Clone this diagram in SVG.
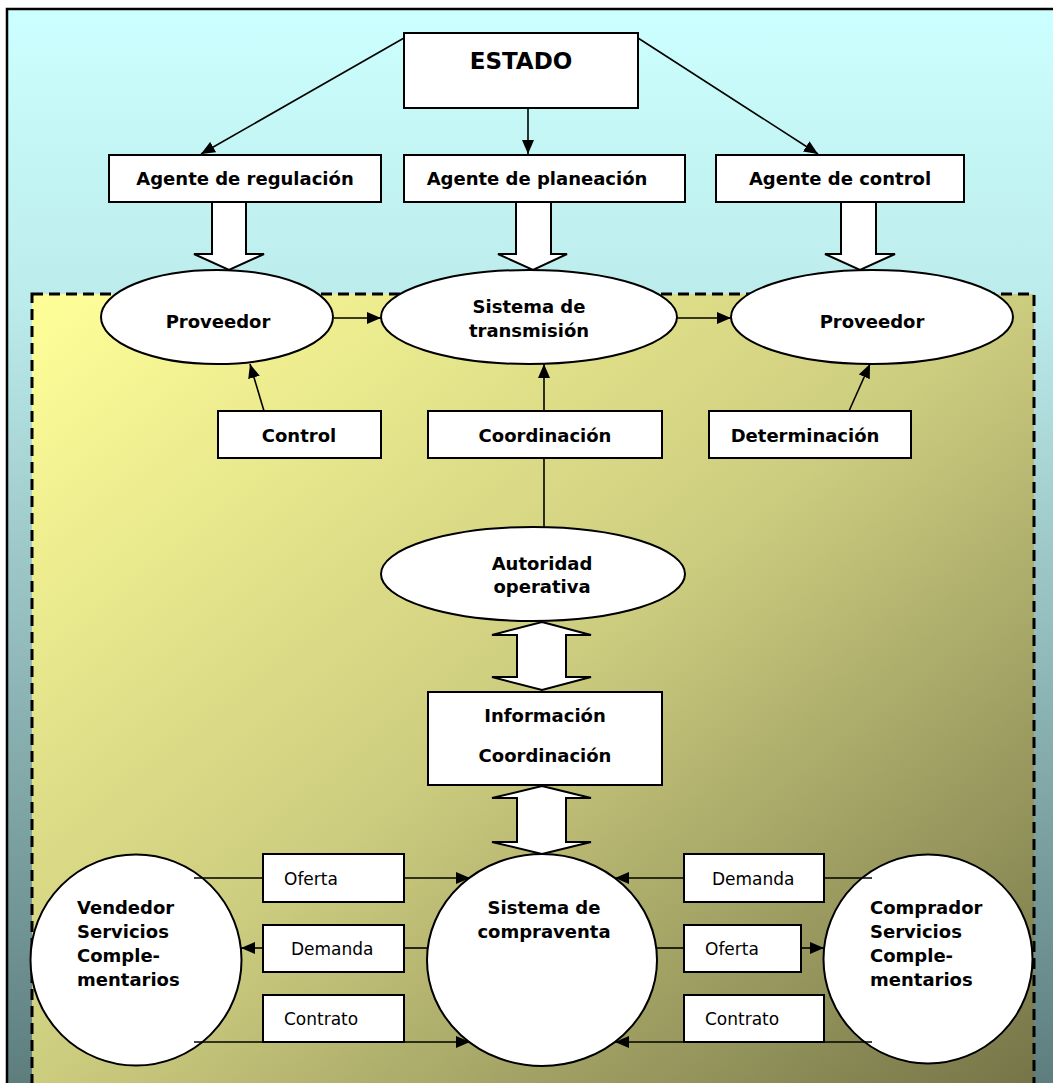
<svg xmlns="http://www.w3.org/2000/svg" width="1053" height="1083" viewBox="0 0 1053 1083">
  <defs>
    <linearGradient id="skyFill" gradientUnits="userSpaceOnUse" x1="0" y1="0" x2="0" y2="1083">
      <stop offset="0.01" stop-color="#CCFFFF"/>
      <stop offset="0.28" stop-color="#BCEBEB"/>
      <stop offset="1" stop-color="#5E7E7E"/>
    </linearGradient>
    <linearGradient id="marketFill" x1="0" y1="0" x2="1" y2="1">
      <stop offset="0" stop-color="#FFFF99"/>
      <stop offset="0.5" stop-color="#CCCC7F"/>
      <stop offset="1" stop-color="#747448"/>
    </linearGradient>
    <marker id="ah" viewBox="0 0 14 12" refX="14" refY="6" markerWidth="14" markerHeight="12" markerUnits="userSpaceOnUse" orient="auto">
      <path d="M0,0 L14,6 L0,12 z" fill="#000"/>
    </marker>
    <style>
      .box { fill: #fff; stroke: #000; stroke-width: 2; }
      .oval { fill: #fff; stroke: #000; stroke-width: 2; }
      .bold { font-family: "DejaVu Sans", "Liberation Sans", sans-serif; font-weight: bold; font-size: 18px; fill: #000; }
      .title { font-size: 23px; }
      .mid { text-anchor: middle; }
      .plain { font-family: "DejaVu Sans", "Liberation Sans", sans-serif; font-size: 17px; fill: #000; }
      .wire { fill: none; stroke: #000; stroke-width: 1.6; }
      .arrow { marker-end: url(#ah); }
      .block { fill: #fff; stroke: #000; stroke-width: 2; stroke-linejoin: miter; }
    </style>
  </defs>

  <!-- backgrounds -->
  <rect x="7" y="9" width="1070" height="1100" fill="url(#skyFill)" stroke="#000" stroke-width="2.5"/>
  <rect x="32" y="294" width="1002" height="796" fill="url(#marketFill)" stroke="#000" stroke-width="3" stroke-dasharray="11 6"/>

  <!-- state level -->
  <g id="estado">
    <rect class="box" x="404" y="33" width="234" height="75"/>
    <text class="bold title mid" x="521" y="69">ESTADO</text>
  </g>
  <g id="agente-regulacion">
    <rect class="box" x="109" y="155" width="272" height="47"/>
    <text class="bold mid" x="245" y="185">Agente de regulación</text>
  </g>
  <g id="agente-planeacion">
    <rect class="box" x="404" y="155" width="281" height="47"/>
    <text class="bold mid" x="537" y="185">Agente de planeación</text>
  </g>
  <g id="agente-control">
    <rect class="box" x="716" y="155" width="248" height="47"/>
    <text class="bold mid" x="840" y="185">Agente de control</text>
  </g>

  <!-- transmission level -->
  <g id="proveedor-izq">
    <ellipse class="oval" cx="217" cy="317" rx="116" ry="47"/>
    <text class="bold mid" x="218" y="328">Proveedor</text>
  </g>
  <g id="sistema-transmision">
    <ellipse class="oval" cx="529" cy="317" rx="148" ry="47"/>
    <text class="bold mid" x="529" y="313">Sistema de</text>
    <text class="bold mid" x="529" y="337">transmisión</text>
  </g>
  <g id="proveedor-der">
    <ellipse class="oval" cx="872" cy="317" rx="141" ry="47"/>
    <text class="bold mid" x="872" y="328">Proveedor</text>
  </g>
  <g id="control">
    <rect class="box" x="218" y="411" width="163" height="47"/>
    <text class="bold mid" x="299" y="442">Control</text>
  </g>
  <g id="coordinacion">
    <rect class="box" x="428" y="411" width="234" height="47"/>
    <text class="bold mid" x="545" y="442">Coordinación</text>
  </g>
  <g id="determinacion">
    <rect class="box" x="709" y="411" width="202" height="47"/>
    <text class="bold mid" x="805" y="442">Determinación</text>
  </g>

  <!-- operation level -->
  <g id="autoridad-operativa">
    <ellipse class="oval" cx="533" cy="574" rx="152" ry="47"/>
    <text class="bold mid" x="542" y="570">Autoridad</text>
    <text class="bold mid" x="542" y="593">operativa</text>
  </g>
  <g id="informacion-coordinacion">
    <rect class="box" x="428" y="692" width="234" height="93"/>
    <text class="bold mid" x="545" y="722">Información</text>
    <text class="bold mid" x="545" y="762">Coordinación</text>
  </g>

  <!-- market level -->
  <g id="vendedor">
    <circle class="oval" cx="136" cy="960" r="105.5"/>
    <text class="bold" x="77" y="914">Vendedor</text>
    <text class="bold" x="77" y="938">Servicios</text>
    <text class="bold" x="77" y="962">Comple-</text>
    <text class="bold" x="77" y="986">mentarios</text>
  </g>
  <g id="sistema-compraventa">
    <ellipse class="oval" cx="542" cy="960" rx="115" ry="106"/>
    <text class="bold mid" x="544" y="914">Sistema de</text>
    <text class="bold mid" x="544" y="938">compraventa</text>
  </g>
  <g id="comprador">
    <circle class="oval" cx="928" cy="959" r="104.5"/>
    <text class="bold" x="870" y="914">Comprador</text>
    <text class="bold" x="870" y="938">Servicios</text>
    <text class="bold" x="870" y="962">Comple-</text>
    <text class="bold" x="870" y="986">mentarios</text>
  </g>
  <g id="oferta-vendedor">
    <rect class="box" x="263" y="854" width="141" height="48"/>
    <text class="plain" x="284" y="885">Oferta</text>
  </g>
  <g id="demanda-vendedor">
    <rect class="box" x="263" y="925" width="141" height="47"/>
    <text class="plain" x="291" y="955">Demanda</text>
  </g>
  <g id="contrato-vendedor">
    <rect class="box" x="263" y="995" width="141" height="47"/>
    <text class="plain" x="284" y="1025">Contrato</text>
  </g>
  <g id="demanda-comprador">
    <rect class="box" x="684" y="854" width="140" height="48"/>
    <text class="plain" x="712" y="885">Demanda</text>
  </g>
  <g id="oferta-comprador">
    <rect class="box" x="684" y="925" width="117" height="47"/>
    <text class="plain" x="705" y="955">Oferta</text>
  </g>
  <g id="contrato-comprador">
    <rect class="box" x="684" y="995" width="140" height="47"/>
    <text class="plain" x="705" y="1025">Contrato</text>
  </g>

  <!-- connectors -->
  <g id="connectors">
    <line class="wire arrow" x1="404" y1="38" x2="201" y2="154"/>
    <line class="wire arrow" x1="528" y1="108" x2="528" y2="154"/>
    <line class="wire arrow" x1="638" y1="38" x2="818" y2="154"/>

    <polygon class="block" points="212,202 246,202 246,254 264,254 229,270 194,254 212,254"/>
    <polygon class="block" points="516,202 551,202 551,254 567,254 533,270 498,254 516,254"/>
    <polygon class="block" points="841,202 876,202 876,254 895,254 860,270 825,254 841,254"/>

    <line class="wire arrow" x1="334" y1="318" x2="381" y2="318"/>
    <line class="wire arrow" x1="677" y1="318" x2="731" y2="318"/>

    <line class="wire arrow" x1="264" y1="411" x2="250" y2="364"/>
    <line class="wire arrow" x1="544" y1="411" x2="544" y2="364"/>
    <line class="wire arrow" x1="849" y1="411" x2="870" y2="364"/>
    <line class="wire" x1="544" y1="527" x2="544" y2="458"/>

    <polygon class="block" points="542,622 591,635 566,635 566,677 591,677 542,690 492,677 517,677 517,635 492,635"/>
    <polygon class="block" points="542,786 591,798 566,798 566,842 591,842 542,854 492,842 517,842 517,798 492,798"/>

    <line class="wire" x1="194" y1="878" x2="263" y2="878"/>
    <line class="wire arrow" x1="404" y1="878" x2="470" y2="878"/>
    <line class="wire" x1="427" y1="948" x2="404" y2="948"/>
    <line class="wire arrow" x1="263" y1="948" x2="241" y2="948"/>
    <line class="wire arrow" x1="194" y1="1042" x2="470" y2="1042"/>

    <line class="wire" x1="872" y1="878" x2="824" y2="878"/>
    <line class="wire arrow" x1="684" y1="878" x2="615" y2="878"/>
    <line class="wire" x1="657" y1="948" x2="684" y2="948"/>
    <line class="wire arrow" x1="801" y1="948" x2="824" y2="948"/>
    <line class="wire arrow" x1="872" y1="1042" x2="615" y2="1042"/>
  </g>
</svg>
